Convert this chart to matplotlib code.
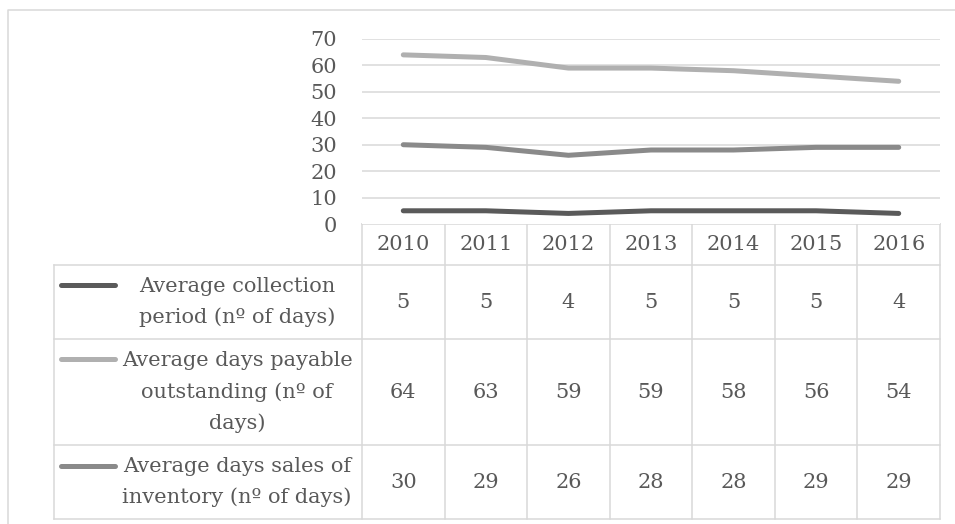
import matplotlib
matplotlib.use("Agg")
import matplotlib.pyplot as plt
from matplotlib.transforms import blended_transform_factory

years = ["2010", "2011", "2012", "2013", "2014", "2015", "2016"]
series_names = [
    "Average collection\nperiod (nº of days)",
    "Average days payable\noutstanding (nº of\ndays)",
    "Average days sales of\ninventory (nº of days)",
]
collection = [5, 5, 4, 5, 5, 5, 4]
payable = [64, 63, 59, 59, 58, 56, 54]
inventory = [30, 29, 26, 28, 28, 29, 29]
series_values = [collection, payable, inventory]
colors = ["#5a5a5a", "#b0b0b0", "#8a8a8a"]
yticks = [0, 10, 20, 30, 40, 50, 60, 70]

W, H = 955, 524
FONT = "DejaVu Serif"
FS = 15
TXT = "#595959"
GRID = "#d9d9d9"

fig = plt.figure(figsize=(W / 100, H / 100), dpi=100)

# overlay axes in pixel coordinates
ov = fig.add_axes([0, 0, 1, 1])
ov.set_xlim(0, W)
ov.set_ylim(H, 0)
ov.axis("off")

# plot area
px_l, px_r, px_t, px_b = 362, 940, 39, 224
ax = fig.add_axes([px_l / W, 1 - px_b / H, (px_r - px_l) / W, (px_b - px_t) / H])
ax.set_xlim(-0.5, len(years) - 0.5)
ax.set_ylim(0, 70)
for s in ax.spines.values():
    s.set_visible(False)
ax.set_xticks([])
ax.set_yticks(yticks)
ax.set_yticklabels([str(v) for v in yticks], fontfamily=FONT, fontsize=FS, color=TXT)
ax.tick_params(axis="y", length=0, pad=18)
for v in yticks[1:]:
    ax.axhline(v, color=GRID, lw=1.1, zorder=1)

x = list(range(len(years)))
for vals, c in zip(series_values, colors):
    ax.plot(x, vals, color=c, lw=3.6, solid_capstyle="round", solid_joinstyle="round", zorder=3)

# outer chart border
ov.plot([8, 8, W + 5], [H + 5, 10, 10], color=GRID, lw=1.1)

# table
tr = blended_transform_factory(ax.transData, ov.transData)
header_top, header_bot = 224, 265
row_edges = [265, 339, 445, 519]
leg_left = 54
n = len(years)

for i in range(n + 1):
    ov.plot([i - 0.5, i - 0.5], [header_top, row_edges[-1]], color=GRID, lw=1.1, transform=tr, clip_on=False)
ov.plot([-0.5, n - 0.5], [header_top, header_top], color=GRID, lw=1.1, transform=tr, clip_on=False)
for y in row_edges:
    ov.plot([leg_left, px_r], [y, y], color=GRID, lw=1.1)
ov.plot([leg_left, leg_left], [row_edges[0], row_edges[-1]], color=GRID, lw=1.1)

for i, yr in enumerate(years):
    ov.text(i, (header_top + header_bot) / 2, yr, transform=tr, ha="center", va="center",
            fontfamily=FONT, fontsize=FS, color=TXT)

key_y = [285, 359, 466]
for r, (name, vals, c) in enumerate(zip(series_names, series_values, colors)):
    yc = (row_edges[r] + row_edges[r + 1]) / 2
    ov.plot([61, 115], [key_y[r], key_y[r]], color=c, lw=3.6, solid_capstyle="round")
    ov.text(237, yc, name, ha="center", va="center", multialignment="center",
            fontfamily=FONT, fontsize=FS, color=TXT, linespacing=1.78)
    for i, v in enumerate(vals):
        ov.text(i, yc, str(v), transform=tr, ha="center", va="center",
                fontfamily=FONT, fontsize=FS, color=TXT)

fig.savefig("out.png", dpi=100)
